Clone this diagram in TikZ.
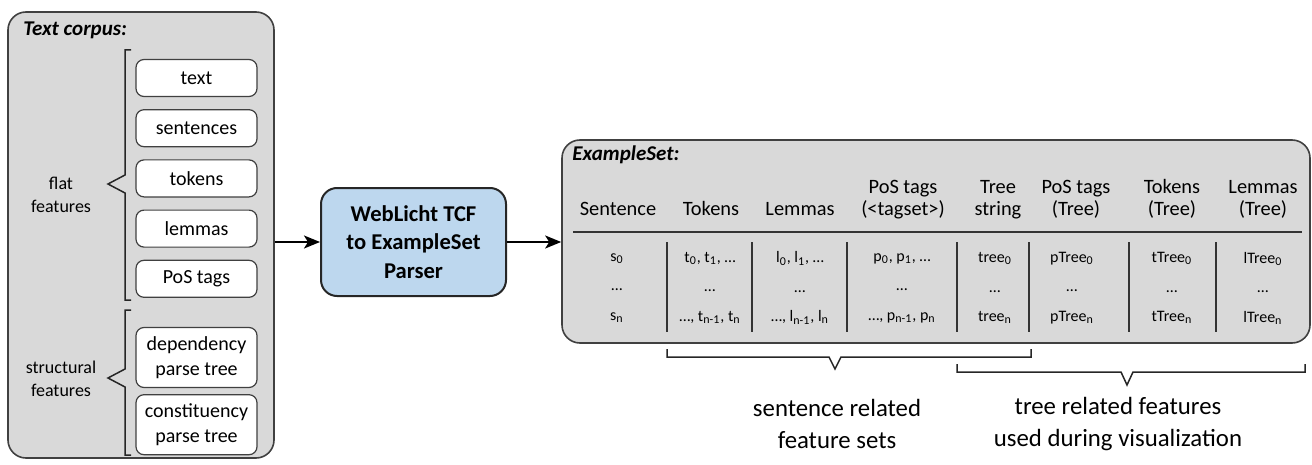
\documentclass[tikz,border=0pt]{standalone}
\usepackage{fontspec}
\setmainfont{Carlito}
\usetikzlibrary{arrows.meta,positioning}
\definecolor{panelgray}{RGB}{217,217,217}
\definecolor{panelline}{RGB}{64,64,64}
\definecolor{parserblue}{RGB}{189,215,238}
\newcommand{\ix}[1]{\textsubscript{#1}}
\begin{document}
\begin{tikzpicture}[x=0.5pt,y=-0.5pt]
\tikzstyle{panel}=[draw=panelline,fill=panelgray,line width=0.8pt,rounded corners=9pt,inner sep=0pt]
\tikzstyle{paneltitle}=[anchor=west,inner sep=0pt,font=\fontsize{10.5}{12}\selectfont\bfseries\itshape]
\tikzstyle{featbox}=[draw=panelline,fill=white,line width=0.6pt,rounded corners=4pt,minimum width=60.5pt,minimum height=18.5pt,inner sep=0pt,align=center,font=\fontsize{10}{12.5}\selectfont]
\tikzstyle{sidelabel}=[inner sep=0pt,align=center,font=\fontsize{9}{11.5}\selectfont]
\tikzstyle{brace}=[draw=black!85,line width=0.75pt]
\tikzstyle{parser}=[draw=black!85,fill=parserblue,line width=1pt,rounded corners=8pt,minimum width=92.5pt,minimum height=54pt,inner sep=0pt,align=center,font=\fontsize{11.3}{14.25}\selectfont\bfseries]
\tikzstyle{arrow}=[draw=black,line width=1pt,-{Stealth[length=8pt,width=6.5pt,inset=2pt]}]
\tikzstyle{header}=[anchor=south,inner sep=0pt,align=center,font=\fontsize{10.2}{11}\selectfont,execute at end node=\strut]
\tikzstyle{cell}=[inner sep=0pt,align=center,font=\fontsize{8}{14.75}\selectfont]
\tikzstyle{rule}=[draw=black!80,line width=1pt]
\tikzstyle{note}=[inner sep=0pt,align=center,font=\fontsize{12.4}{16}\selectfont]
\useasboundingbox (0,0) rectangle (1312,465);

\node[panel,minimum width=133pt,minimum height=223pt] (corpus) at (141,235) {};
\node[paneltitle] (corpustitle) at (23,30) {Text corpus:};
\node[featbox] (text) at (196.5,78) {text};
\node[featbox,below=6pt of text] (sentences) {sentences};
\node[featbox,below=6pt of sentences] (tokens) {tokens};
\node[featbox,below=6pt of tokens] (lemmas) {lemmas};
\node[featbox,below=6pt of lemmas] (postags) {PoS tags};
\node[featbox,minimum height=30pt,below=14.5pt of postags] (deptree) {dependency\\parse tree};
\node[featbox,minimum height=30pt,below=3pt of deptree] (consttree) {constituency\\parse tree};
\draw[brace] (131,50) -- (125,50) -- (125,175) -- (108,184) -- (125,193) -- (125,300) -- (131,300);
\draw[brace] (131,310) -- (125,310) -- (125,369) -- (108,378) -- (125,387) -- (125,455) -- (131,455);
\node[sidelabel] (flatlabel) at (61,195) {flat\\features};
\node[sidelabel] (structlabel) at (61,379) {structural\\features};

\node[parser] (parser) at (413.5,242) {WebLicht TCF\\to ExampleSet\\Parser};

\node[panel,minimum width=374pt,minimum height=101.5pt] (exset) at (936,241.5) {};
\node[paneltitle] (exsettitle) at (572,155) {ExampleSet:};
\draw[rule,line width=1.2pt] (573,232) -- (1302,232);
\foreach \x/\n/\t in {618/sent/{Sentence},711/tok/{Tokens},800/lem/{Lemmas},903/pos/{PoS tags\\(<tagset>)},998/tree/{Tree\\string},1076/ptree/{PoS tags\\(Tree)},1172/ttree/{Tokens\\(Tree)},1263/ltree/{Lemmas\\(Tree)}}
  \node[header] (h\n) at (\x,222) {\t};
\foreach \x in {667,752,847,957,1029,1129,1216}
  \draw[rule] (\x,242) -- (\x,332);
\foreach \x/\n/\t in {617/sent/{s\ix{0}\\…\\s\ix{n}},710/tok/{t\ix{0}, t\ix{1}, …\\…\\…, t\ix{n-1}, t\ix{n}},800/lem/{l\ix{0}, l\ix{1}, …\\…\\…, l\ix{n-1}, l\ix{n}},902/pos/{p\ix{0}, p\ix{1}, …\\…\\…, p\ix{n-1}, p\ix{n}},995/tree/{tree\ix{0}\\…\\tree\ix{n}},1072/ptree/{pTree\ix{0}\\…\\pTree\ix{n}},1172/ttree/{tTree\ix{0}\\…\\tTree\ix{n}},1263/ltree/{lTree\ix{0}\\…\\lTree\ix{n}}}
  \node[cell] (c\n) at (\x,288) {\t};

\draw[arrow] (corpus.east |- parser.west) -- (parser.west);
\draw[arrow] (parser.east) -- (parser.east -| exset.west);

\draw[brace] (667,349) -- (667,357) -- (829,357) -- (835,369) -- (841,357) -- (1031,357) -- (1031,349);
\draw[brace] (957,364) -- (957,372) -- (1121,372) -- (1127,385) -- (1133,372) -- (1305,372) -- (1305,364);
\node[note] (sentnote) at (837,424) {sentence related\\feature sets};
\node[note] (treenote) at (1118,424) {tree related features\\used during visualization};
\end{tikzpicture}
\end{document}
